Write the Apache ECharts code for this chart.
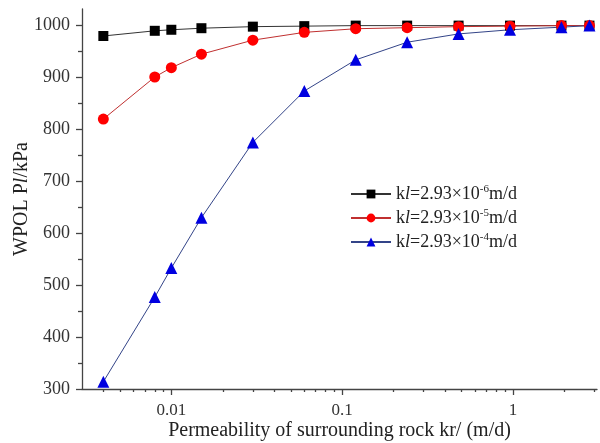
<!DOCTYPE html>
<html>
<head>
<meta charset="utf-8">
<script src="https://cdn.jsdelivr.net/npm/echarts@6/dist/echarts.min.js"></script>
<style>html,body{margin:0;padding:0;background:#fff;}#c{width:600px;height:443px;}</style>
</head>
<body>
<div id="c"></div>
<script>
var kr = [0.004, 0.008, 0.01, 0.015, 0.03, 0.06, 0.12, 0.24, 0.48, 0.96, 1.92, 2.8];
var seriesNames = ['s6', 's5', 's4'];
var exps = ['-6', '-5', '-4'];
var black = [980, 990, 992, 995, 998, 999, 1000, 1000, 1000, 1000, 1000, 1000];
var red = [820, 901, 919, 945, 972, 987, 994, 996, 998, 999, 1000, 1000];
var blue = [314, 477, 533, 630, 775, 874, 934, 968, 984, 992, 997, 1000];
var xMajor = [0.01, 0.1, 1];
var xMinor = [0.004, 0.005, 0.006, 0.007, 0.008, 0.009, 0.02, 0.03, 0.04, 0.05, 0.06, 0.07, 0.08, 0.09, 0.2, 0.3, 0.4, 0.5, 0.6, 0.7, 0.8, 0.9, 2, 3];
var yMajor = [300, 400, 500, 600, 700, 800, 900, 1000];
var yMinor = [350, 450, 550, 650, 750, 850, 950];

function pairs(ys) { return kr.map(function (x, i) { return [x, ys[i]]; }); }

var FONT = 'Liberation Serif';
var chart = echarts.init(document.getElementById('c'), null, {renderer: 'canvas'});
var axisLineStyle = {color: '#444', width: 1.3};

chart.setOption({
  backgroundColor: '#fff',
  animation: false,
  grid: {left: 82, right: 3, top: 9, bottom: 54, containLabel: false, outerBoundsMode: 'none'},
  legend: {
    orient: 'vertical',
    left: 345,
    top: 179,
    itemWidth: 40,
    itemHeight: 11,
    itemGap: 5,
    data: seriesNames,
    formatter: function (n) {
      var e = exps[seriesNames.indexOf(n)];
      return '{n|k}{i|l}{n|=2.93×10}{s|' + e + '}{n|m/d}';
    },
    textStyle: {
      fontFamily: FONT, fontSize: 18, color: '#222',
      rich: {
        n: {fontFamily: FONT, fontSize: 18, color: '#222'},
        i: {fontFamily: FONT, fontSize: 18, fontStyle: 'italic', color: '#222'},
        s: {fontFamily: FONT, fontSize: 11, color: '#222', padding: [0, 0, 9, 0]}
      }
    }
  },
  xAxis: [{
    type: 'log', logBase: 10, min: 0.003, max: 3.1,
    name: 'Permeability of surrounding rock kr/ (m/d)',
    nameLocation: 'middle', nameGap: 32, nameMoveOverlap: false,
    nameTextStyle: {fontFamily: FONT, fontSize: 20, color: '#222'},
    axisLine: {lineStyle: axisLineStyle},
    axisTick: {customValues: xMajor, length: 6, inside: false, lineStyle: axisLineStyle},
    axisLabel: {customValues: xMajor, fontFamily: FONT, fontSize: 17, color: '#333', margin: 13,
      formatter: function (v) { return String(+v.toPrecision(3)); }},
    splitLine: {show: false}
  }, {
    type: 'log', logBase: 10, min: 0.003, max: 3.1, position: 'bottom',
    axisLine: {show: false},
    axisTick: {customValues: xMinor, length: 3, lineStyle: axisLineStyle},
    axisLabel: {show: false},
    splitLine: {show: false}
  }],
  yAxis: [{
    type: 'value', min: 300, max: 1032,
    name: '{n|WPOL P}{i|l}{n|/kPa}',
    nameLocation: 'middle', nameGap: 50, nameMoveOverlap: false,
    nameTextStyle: {fontFamily: FONT, fontSize: 20, color: '#222',
      rich: {
        n: {fontFamily: FONT, fontSize: 20, color: '#222'},
        i: {fontFamily: FONT, fontSize: 20, fontStyle: 'italic', color: '#222'}
      }},
    axisLine: {show: true, lineStyle: axisLineStyle},
    axisTick: {show: true, customValues: yMajor, length: 6, lineStyle: axisLineStyle},
    axisLabel: {customValues: yMajor, fontFamily: FONT, fontSize: 18, color: '#333', margin: 12,
      formatter: function (v) { return String(Math.round(v)); }},
    splitLine: {show: false}
  }, {
    type: 'value', min: 300, max: 1032, position: 'left',
    axisLine: {show: false},
    axisTick: {show: true, customValues: yMinor, length: 4, lineStyle: axisLineStyle},
    axisLabel: {show: false},
    splitLine: {show: false}
  }],
  series: [{
    name: 's6', type: 'line', data: pairs(black),
    symbol: 'rect', symbolSize: 10,
    itemStyle: {color: '#000'},
    lineStyle: {color: '#333', width: 1}
  }, {
    name: 's5', type: 'line', data: pairs(red),
    symbol: 'circle', symbolSize: 11,
    itemStyle: {color: '#f00'},
    lineStyle: {color: '#c03030', width: 1}
  }, {
    name: 's4', type: 'line', data: pairs(blue),
    symbol: 'triangle', symbolSize: 12,
    itemStyle: {color: '#0000e0'},
    lineStyle: {color: '#334488', width: 1}
  }]
});
</script>
</body>
</html>
